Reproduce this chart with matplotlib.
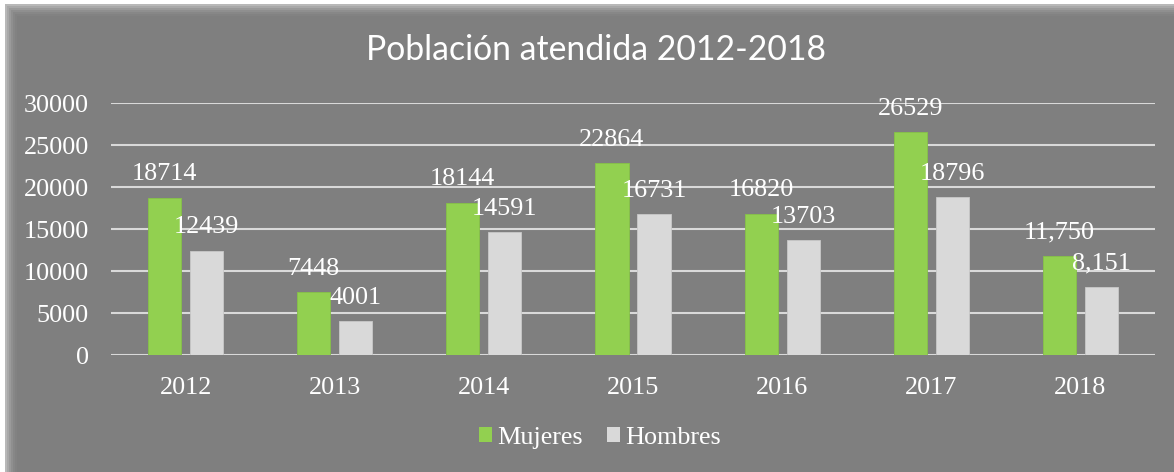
import matplotlib
matplotlib.use("Agg")
import matplotlib.pyplot as plt
from matplotlib.patches import Rectangle
import numpy as np

years = ["2012", "2013", "2014", "2015", "2016", "2017", "2018"]
mujeres = [18714, 7448, 18144, 22864, 16820, 26529, 11750]
hombres = [12439, 4001, 14591, 16731, 13703, 18796, 8151]
mujeres_labels = ["18714", "7448", "18144", "22864", "16820", "26529", "11,750"]
hombres_labels = ["12439", "4001", "14591", "16731", "13703", "18796", "8,151"]
yticks = [0, 5000, 10000, 15000, 20000, 25000, 30000]

W, H = 1174, 472
fig = plt.figure(figsize=(W / 100, H / 100), dpi=100, facecolor="white")

# panel background with soft edge
px0, py_top = 5, 4
fig.patches.append(Rectangle((px0 / W, 0), 1 - px0 / W, 1 - py_top / H,
                             transform=fig.transFigure, facecolor="#7f7f7f",
                             edgecolor="none", zorder=-10))
edge_cols = ["#b8b8b8", "#a8a8a8", "#9a9a9a", "#8f8f8f", "#878787", "#828282"]
for i, c in enumerate(edge_cols):
    fig.patches.append(Rectangle(((px0 + 2 * i) / W, 0), 2 / W, 1 - (py_top + 2 * i) / H,
                                 transform=fig.transFigure, facecolor=c,
                                 edgecolor="none", zorder=-9))
    fig.patches.append(Rectangle(((px0 + 2 * i) / W, 1 - (py_top + 2 * i + 2) / H),
                                 1 - (px0 + 2 * i) / W, 2 / H,
                                 transform=fig.transFigure, facecolor=c,
                                 edgecolor="none", zorder=-9))

ax = fig.add_axes([111 / W, 117 / H, (1155 - 111) / W, (355 - 103) / H])
ax.set_facecolor("none")

serif = ["Liberation Serif", "DejaVu Serif"]
fs = 18.8
x = np.arange(len(years))
off = 0.141
bw = 0.222
ax.bar(x - off, mujeres, width=bw, color="#92d050", edgecolor="#86c247", linewidth=0.6, zorder=3, label="Mujeres")
ax.bar(x + off, hombres, width=bw, color="#d9d9d9", edgecolor="#c8c8c8", linewidth=0.6, zorder=3, label="Hombres")

for xi, v, lab in zip(x, mujeres, mujeres_labels):
    ax.annotate(lab, (xi - off, v), xytext=(0, 12.5), textcoords="offset points",
                ha="center", va="baseline", color="white", fontsize=fs, family=serif, zorder=5)
for xi, v, lab in zip(x, hombres, hombres_labels):
    ax.annotate(lab, (xi + off, v), xytext=(0, 12.5), textcoords="offset points",
                ha="center", va="baseline", color="white", fontsize=fs, family=serif, zorder=5)

ax.set_xlim(-0.5, len(years) - 0.5)
ax.set_ylim(0, 30000)
ax.set_yticks(yticks)
ax.set_yticklabels([str(t) for t in yticks])
ax.set_xticks(x)
ax.set_xticklabels(years)
ax.grid(axis="y", color="#d9d9d9", linewidth=1.5, zorder=1)
ax.set_axisbelow(True)
for s in ax.spines.values():
    s.set_visible(False)
ax.tick_params(axis="both", length=0, colors="white", labelsize=fs)
ax.tick_params(axis="y", pad=16)
ax.tick_params(axis="x", pad=16)
for lbl in ax.get_xticklabels() + ax.get_yticklabels():
    lbl.set_family(serif)

fig.text(596 / W, 1 - 50 / H, "Población atendida 2012-2018", ha="center", va="center",
         color="white", fontsize=24.3, family=["Lato", "DejaVu Sans"])

leg = fig.legend(loc="center", bbox_to_anchor=(600 / W, 1 - 438 / H), ncol=2,
                 frameon=False, prop={"family": serif, "size": fs},
                 handlelength=0.52, handleheight=0.52, handletextpad=0.2,
                 columnspacing=0.9, labelcolor="white")
for h in leg.legend_handles:
    h.set_edgecolor("none")

fig.savefig("out.png", dpi=100, facecolor="white")
